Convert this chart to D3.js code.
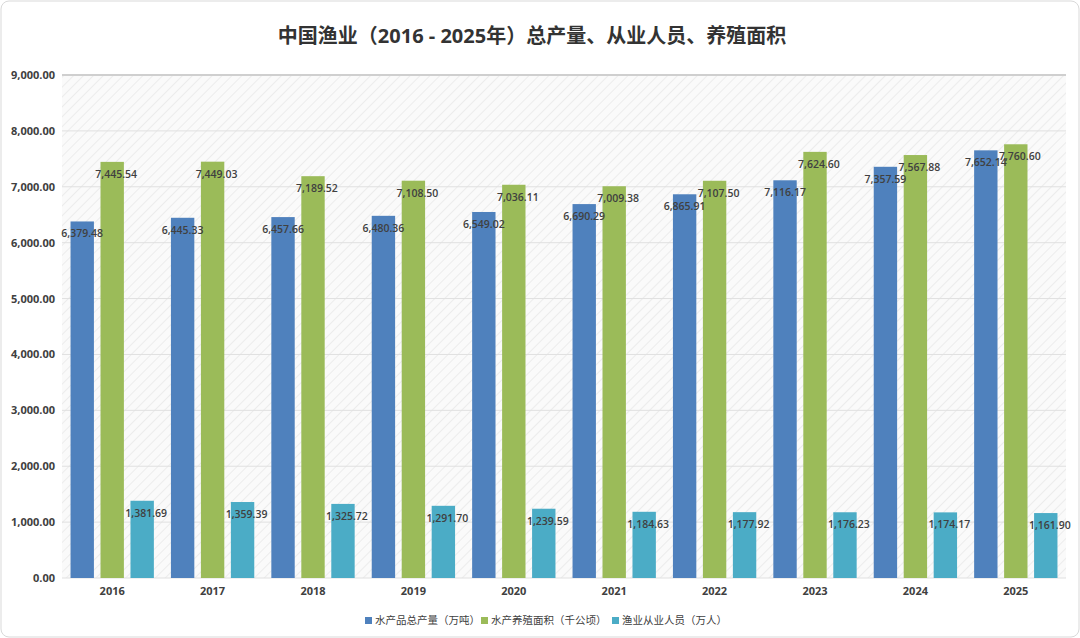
<!DOCTYPE html><html><head><meta charset="utf-8"><script src="https://cdn.jsdelivr.net/npm/d3@7"></script>
<style>body{margin:0;background:#fff;font-family:"Open Sans","Noto Sans CJK SC",sans-serif}</style></head><body><svg id="c" width="1080" height="638"></svg>
<script>
const years=["2016","2017","2018","2019","2020","2021","2022","2023","2024","2025"];
const output=[6379.48,6445.33,6457.66,6480.36,6549.02,6690.29,6865.91,7116.17,7357.59,7652.14];
const area=[7445.54,7449.03,7189.52,7108.50,7036.11,7009.38,7107.50,7624.60,7567.88,7760.60];
const workers=[1381.69,1359.39,1325.72,1291.70,1239.59,1184.63,1177.92,1176.23,1174.17,1161.90];
const seriesNames=["水产品总产量（万吨）","水产养殖面积（千公顷）","渔业从业人员（万人）"];
const colors=["#4f81bd","#9bbb59","#4bacc6"];
const yTicks=[0,1000,2000,3000,4000,5000,6000,7000,8000,9000];
const series=[output,area,workers];
const svg=d3.select("#c");
const font='"Open Sans","Noto Sans CJK SC",sans-serif';
svg.append("rect").attr("x",1).attr("y",1).attr("width",1078).attr("height",636).attr("rx",8).attr("fill","#fff").attr("stroke","#d9d9d9");
const defs=svg.append("defs");
const p=defs.append("pattern").attr("id","hatch").attr("width",7).attr("height",7).attr("patternUnits","userSpaceOnUse").attr("patternTransform","rotate(45)");
p.append("rect").attr("width",7).attr("height",7).attr("fill","#fafafa");
p.append("line").attr("x1",0).attr("y1",0).attr("x2",0).attr("y2",7).attr("stroke","#ececec").attr("stroke-width",2);
const L=62,R=1066,T=75,B=578;
const x=d3.scaleBand().domain(years).range([L,R]).paddingInner(0.17).paddingOuter(0.085);
const xs=d3.scaleBand().domain([0,1,2]).range([0,x.bandwidth()]).paddingInner(0.22);
const y=d3.scaleLinear().domain([0,9000]).range([B,T]);
svg.append("rect").attr("x",L).attr("y",T).attr("width",R-L).attr("height",B-T).attr("fill","url(#hatch)");
svg.selectAll(".g").data(yTicks).enter().append("line").attr("x1",L).attr("x2",R).attr("y1",d=>y(d)).attr("y2",d=>y(d)).attr("stroke",d=>d==9000?"#cfcfcf":"#e0e0e0").attr("stroke-width",d=>d==9000?2:1);
svg.selectAll(".yl").data(yTicks).enter().append("text").attr("x",55).attr("y",d=>y(d)+4).attr("text-anchor","end").attr("font-size",11).attr("font-weight","bold").attr("fill","#404040").attr("font-family",font).text(d=>d3.format(",.2f")(d));
series.forEach((s,i)=>{
  svg.append("g").selectAll("rect").data(s).enter().append("rect").attr("x",(d,j)=>x(years[j])+xs(i)).attr("y",d=>y(d)).attr("width",xs.bandwidth()).attr("height",d=>B-y(d)).attr("fill",colors[i]);
});
series.forEach((s,i)=>{
  svg.append("g").selectAll("text").data(s).enter().append("text").attr("x",(d,j)=>x(years[j])+xs(i)+xs.bandwidth()/2+(i==0?0:4)).attr("y",d=>y(d)+16).attr("text-anchor","middle").attr("font-size",10.5).attr("font-weight","600").attr("fill","#404040").attr("font-family",font).text(d=>d3.format(",.2f")(d));
});
svg.selectAll(".xl").data(years).enter().append("text").attr("x",d=>x(d)+x.bandwidth()/2).attr("y",595).attr("text-anchor","middle").attr("font-size",11).attr("font-weight","bold").attr("fill","#404040").attr("font-family",font).text(d=>d);
svg.append("text").attr("x",532).attr("y",43).attr("text-anchor","middle").attr("font-size",20).attr("font-weight","bold").attr("fill","#333").attr("font-family",font).text("中国渔业（2016 - 2025年）总产量、从业人员、养殖面积");
const lx=[365,481,612];
seriesNames.forEach((n,i)=>{
  svg.append("rect").attr("x",lx[i]).attr("y",617).attr("width",7).attr("height",7).attr("fill",colors[i]);
  svg.append("text").attr("x",lx[i]+10).attr("y",624).attr("font-size",10.5).attr("fill","#404040").attr("font-family",font).text(n);
});
</script></body></html>
